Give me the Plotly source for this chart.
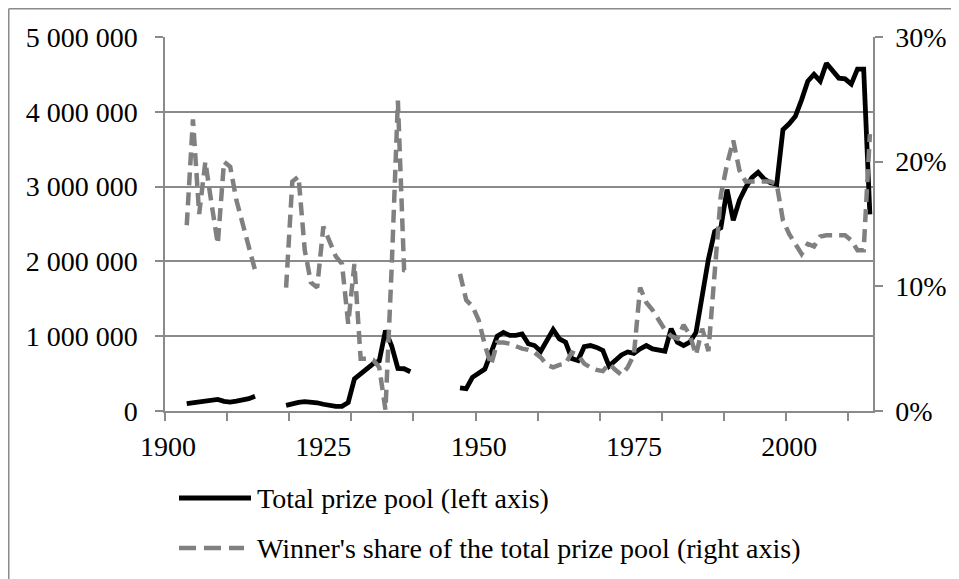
import plotly.graph_objects as go

years = list(range(1903, 2014))

# Total prize pool (left axis); missing years = no race (war years)
prize_pool = {
    1903: 98000, 1904: 107000, 1905: 130000, 1906: 138000, 1907: 138000, 1908: 155000,
    1909: 130000, 1910: 120000, 1911: 133000, 1912: 142000, 1913: 165000, 1914: 196000,
    1919: 75000, 1920: 100000, 1921: 115000, 1922: 125000, 1923: 125000, 1924: 110000,
    1925: 90000, 1926: 75000, 1927: 62000, 1928: 62000, 1929: 115000, 1930: 430000,
    1931: 495000, 1932: 580000, 1933: 630000, 1934: 670000, 1935: 1075000, 1936: 870000,
    1937: 570000, 1938: 565000, 1939: 525000,
    1947: 310000, 1948: 300000, 1949: 450000, 1950: 500000, 1951: 560000, 1952: 780000,
    1953: 1000000, 1954: 1050000, 1955: 1010000, 1956: 1010000, 1957: 1030000, 1958: 900000,
    1959: 875000, 1960: 800000, 1961: 940000, 1962: 1090000, 1963: 965000, 1964: 920000,
    1965: 700000, 1966: 675000, 1967: 860000, 1968: 875000, 1969: 850000, 1970: 810000,
    1971: 600000, 1972: 680000, 1973: 750000, 1974: 790000, 1975: 770000, 1976: 830000,
    1977: 875000, 1978: 830000, 1979: 810000, 1980: 800000, 1981: 1100000, 1982: 920000,
    1983: 875000, 1984: 920000, 1985: 1050000, 1986: 1550000, 1987: 2030000, 1988: 2400000,
    1989: 2450000, 1990: 2960000, 1991: 2550000, 1992: 2820000, 1993: 2990000, 1994: 3120000,
    1995: 3190000, 1996: 3100000, 1997: 3050000, 1998: 3030000, 1999: 3760000, 2000: 3840000,
    2001: 3940000, 2002: 4160000, 2003: 4410000, 2004: 4500000, 2005: 4410000, 2006: 4650000,
    2007: 4560000, 2008: 4450000, 2009: 4440000, 2010: 4370000, 2011: 4570000, 2012: 4570000,
    2013: 2630000,
}

# Winner's share of the total prize pool, % (right axis)
winner_share = {
    1903: 14.9, 1904: 23.4, 1905: 15.8, 1906: 20.0, 1907: 16.6, 1908: 13.4, 1909: 20.0,
    1910: 19.6, 1911: 16.9, 1912: 15.0, 1913: 13.2, 1914: 11.3,
    1919: 9.9, 1920: 18.4, 1921: 18.8, 1922: 12.9, 1923: 10.3, 1924: 9.9, 1925: 14.8,
    1926: 13.7, 1927: 12.4, 1928: 11.8, 1929: 7.0, 1930: 11.8, 1931: 4.2, 1932: 4.2,
    1933: 4.1, 1934: 3.5, 1935: 0.1, 1936: 11.5, 1937: 24.9, 1938: 11.3, 1939: 11.1,
    1947: 11.0, 1948: 8.9, 1949: 8.4, 1950: 7.3, 1951: 5.3, 1952: 3.7, 1953: 5.5,
    1954: 5.5, 1955: 5.4, 1956: 5.2, 1957: 5.0, 1958: 4.9, 1959: 4.7, 1960: 4.3,
    1961: 3.7, 1962: 3.5, 1963: 3.7, 1964: 3.8, 1965: 4.7, 1966: 4.5, 1967: 3.8,
    1968: 3.5, 1969: 3.3, 1970: 3.2, 1971: 3.8, 1972: 3.3, 1973: 2.9, 1974: 3.5,
    1975: 4.5, 1976: 9.9, 1977: 8.7, 1978: 8.1, 1979: 7.3, 1980: 6.5, 1981: 6.0,
    1982: 5.8, 1983: 6.9, 1984: 6.1, 1985: 4.5, 1986: 6.6, 1987: 4.8, 1988: 11.0,
    1989: 17.3, 1990: 19.8, 1991: 21.7, 1992: 19.3, 1993: 18.4, 1994: 18.4, 1995: 18.4,
    1996: 18.4, 1997: 18.4, 1998: 18.2, 1999: 15.3, 2000: 14.2, 2001: 13.4, 2002: 12.6,
    2003: 13.4, 2004: 13.2, 2005: 14.0, 2006: 14.1, 2007: 14.1, 2008: 14.1, 2009: 14.1,
    2010: 13.7, 2011: 12.9, 2012: 12.9, 2013: 22.2,
}

pool_values = [prize_pool.get(y) for y in years]
share_values = [winner_share.get(y) for y in years]

series_names = ["Total prize pool (left axis)",
                "Winner's share of the total prize pool (right axis)"]
x_labels = [1900, 1925, 1950, 1975, 2000]
left_ticks = [0, 1000000, 2000000, 3000000, 4000000, 5000000]
right_ticks = [0, 10, 20, 30]
right_labels = ["0%", "10%", "20%", "30%"]

GRID = "#8a8a8a"
BLACK = "#000000"
GREY = "#808080"
FONT = "Liberation Serif, DejaVu Serif, serif"
DASH = "13px,7px"

# plot area in figure pixels
L, T, R, B = 157, 29, 865, 403
PW, PH = R - L, B - T


def pxx(px):
    return (px - L) / PW


def pxy(py):
    return (B - py) / PH


fig = go.Figure()
fig.add_trace(go.Scatter(
    x=years, y=pool_values, mode="lines", name=series_names[0],
    line=dict(color=BLACK, width=4.8), connectgaps=False, showlegend=False,
))
fig.add_trace(go.Scatter(
    x=years, y=share_values, mode="lines", yaxis="y2", name=series_names[1],
    line=dict(color=GREY, width=4.5, dash=DASH), connectgaps=False, showlegend=False,
))

# legend (drawn as shapes + text so the line samples have the original length)
leg_y = [490, 540]
leg_text_x = 247
shapes = [
    # chart-area frame (left and top)
    dict(type="line", xref="paper", yref="paper", x0=pxx(0.75), x1=pxx(0.75),
         y0=pxy(0.75), y1=pxy(600), line=dict(color=GRID, width=1.5)),
    dict(type="line", xref="paper", yref="paper", x0=pxx(0.75), x1=pxx(1000),
         y0=pxy(0.75), y1=pxy(0.75), line=dict(color=GRID, width=1.5)),
    dict(type="line", xref="paper", yref="paper", x0=pxx(171), x1=pxx(243),
         y0=pxy(leg_y[0]), y1=pxy(leg_y[0]), line=dict(color=BLACK, width=4.8)),
    dict(type="line", xref="paper", yref="paper", x0=pxx(171), x1=pxx(236),
         y0=pxy(leg_y[1]), y1=pxy(leg_y[1]), line=dict(color=GREY, width=4.5, dash="17px,8px")),
]
annotations = [
    dict(text=series_names[i], xref="paper", yref="paper", x=pxx(leg_text_x), y=pxy(leg_y[i]),
         xanchor="left", yanchor="middle", showarrow=False,
         font=dict(family=FONT, size=28, color=BLACK))
    for i in range(2)
]

fig.update_layout(
    width=959, height=579,
    margin=dict(l=L, r=959 - R, t=T, b=579 - B, autoexpand=False),
    paper_bgcolor="white", plot_bgcolor="white",
    separators=". ",
    font=dict(family=FONT, size=28, color=BLACK),
    showlegend=False,
    xaxis=dict(
        range=[1899.5, 2013.5], tickmode="array", tickvals=x_labels,
        ticktext=[str(v) for v in x_labels], ticks="", showgrid=False,
        showline=True, linecolor=GRID, linewidth=1.5, zeroline=False,
        ticklabelstandoff=10,
        minor=dict(tickvals=[1899.5 + 10 * k for k in range(12)], ticks="outside",
                   ticklen=8, tickcolor=GRID, tickwidth=1.5, showgrid=False),
    ),
    yaxis=dict(
        range=[0, 5000000], tickmode="array", tickvals=left_ticks, tickformat=",d",
        showgrid=True, gridcolor=GRID, gridwidth=1.5, ticks="outside", ticklen=8,
        tickcolor=GRID, tickwidth=1.5, showline=True, linecolor=GRID, linewidth=1.5,
        zeroline=False, ticklabelstandoff=12,
    ),
    yaxis2=dict(
        range=[0, 30], overlaying="y", side="right", tickmode="array",
        tickvals=right_ticks, ticktext=right_labels, showgrid=False, ticks="outside",
        ticklen=8, tickcolor=GRID, tickwidth=1.5, showline=True, linecolor=GRID,
        linewidth=1.5, zeroline=False, ticklabelstandoff=7,
    ),
    shapes=shapes,
    annotations=annotations,
)

fig.write_html("out.html")
